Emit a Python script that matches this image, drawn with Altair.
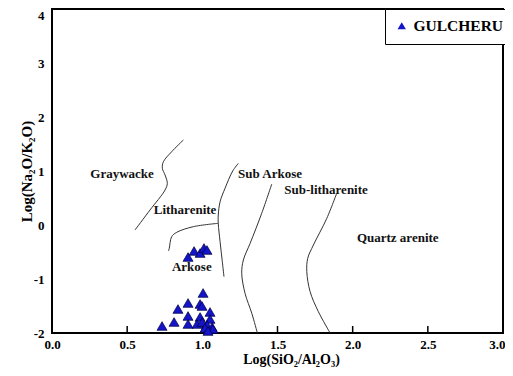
import altair as alt
import pandas as pd

# Sample points (Log SiO2/Al2O3, Log Na2O/K2O)
pt_x = [0.905, 0.945, 0.985, 1.011, 1.031,
        1.005, 0.905, 0.985, 0.998, 0.838, 1.051, 0.905, 0.985, 1.051,
        0.732, 0.812, 0.905, 0.965, 0.998, 1.031, 1.065, 1.018, 1.071, 1.038]
pt_y = [-0.593, -0.481, -0.519, -0.426, -0.463,
        -1.259, -1.444, -1.463, -1.500, -1.556, -1.611, -1.685, -1.704, -1.741,
        -1.870, -1.796, -1.833, -1.833, -1.796, -1.852, -1.889, -1.907, -1.926, -1.963]
group_name = "GULCHERU"

# Classification boundary curves
c1_x = [0.552, 0.652, 0.752, 0.767, 0.752, 0.734, 0.741, 0.796, 0.874]
c1_y = [-0.093, 0.278, 0.648, 0.772, 0.926, 1.050, 1.172, 1.357, 1.574]
c2_x = [0.775, 0.780, 0.796, 0.830, 0.940, 1.106]
c2_y = [-0.480, -0.431, -0.217, -0.135, -0.031, 0.031]
c3_x = [1.144, 1.133, 1.118, 1.106, 1.106, 1.118, 1.151, 1.202, 1.240]
c3_y = [-0.957, -0.680, -0.309, 0.031, 0.185, 0.431, 0.680, 1.000, 1.142]
c4_x = [1.462, 1.395, 1.318, 1.273, 1.262, 1.284, 1.329, 1.366]
c4_y = [0.759, 0.217, -0.339, -0.648, -0.894, -1.265, -1.635, -2.000]
c5_x = [1.894, 1.828, 1.739, 1.701, 1.695, 1.717, 1.772, 1.850]
c5_y = [0.587, 0.124, -0.370, -0.617, -0.865, -1.235, -1.606, -2.000]

# Field labels
lab_text = ["Graywacke", "Litharenite", "Arkose", "Sub Arkose", "Sub-litharenite", "Quartz arenite"]
lab_x = [0.466, 0.885, 0.930, 1.450, 1.823, 2.300]
lab_y = [0.944, 0.278, -0.780, 0.944, 0.648, -0.240]

x_ticks = [0.0, 0.5, 1.0, 1.5, 2.0, 2.5, 3.0]
inner_ticks = [0.5, 1.0, 1.5, 2.0, 2.5]
y_ticks = [-2, -1, 0, 1, 2, 3, 4]

FONT = "Liberation Serif"

pts = pd.DataFrame({"x": pt_x, "y": pt_y, "g": group_name})
rows = []
for cid, (cx, cy) in enumerate([(c1_x, c1_y), (c2_x, c2_y), (c3_x, c3_y), (c4_x, c4_y), (c5_x, c5_y)]):
    for i, (a, b) in enumerate(zip(cx, cy)):
        rows.append({"x": a, "y": b, "c": cid, "i": i})
curves = pd.DataFrame(rows)
labs = pd.DataFrame({"t": lab_text, "x": lab_x, "y": lab_y})
ticks = pd.DataFrame({"x": inner_ticks, "y": -2.0, "y2": -1.87})

xs = alt.Scale(domain=[0, 3], nice=False)
ys = alt.Scale(domain=[-2, 4], nice=False)

xax = alt.Axis(values=x_ticks, labelExpr="format(datum.value, '.1f')", title="Log(SiO₂/Al₂O₃)",
               grid=False, domain=False, ticks=False, labelFlush=False, labelOverlap=False,
               labelAlign={"condition": {"test": "datum.value == 3", "value": "right"}, "value": "center"},
               labelOffset={"condition": {"test": "datum.value == 3", "value": 2}, "value": 0},
               labelFont=FONT, labelFontWeight="bold", labelFontSize=13, labelColor="black",
               labelPadding=5, titleFont=FONT, titleFontWeight="bold", titleFontSize=14,
               titleColor="black", titleX=239, titleY=26, titleBaseline="middle")
yax = alt.Axis(values=y_ticks, labelExpr="'' + datum.value", title="Log(Na₂O/K₂O)",
               grid=False, domain=False, ticks=False, labelFlush=False, labelOverlap=False,
               labelBaseline={"condition": {"test": "datum.value == 4", "value": "top"}, "value": "middle"},
               labelFont=FONT, labelFontWeight="bold", labelFontSize=13, labelColor="black",
               labelPadding=8, titleFont=FONT, titleFontWeight="bold", titleFontSize=15,
               titleColor="black", titleX=-26, titleBaseline="middle")

lines = alt.Chart(curves).mark_line(color="#333333", strokeWidth=1, interpolate="catmull-rom").encode(
    x=alt.X("x:Q", scale=xs, axis=xax),
    y=alt.Y("y:Q", scale=ys, axis=yax),
    detail="c:N",
    order="i:Q",
)

tickrules = alt.Chart(ticks).mark_rule(color="black", strokeWidth=1.5).encode(
    x=alt.X("x:Q", scale=xs), y=alt.Y("y:Q", scale=ys), y2="y2:Q"
)

texts = alt.Chart(labs).mark_text(font=FONT, fontWeight="bold", fontSize=13, color="#111111").encode(
    x=alt.X("x:Q", scale=xs), y=alt.Y("y:Q", scale=ys), text="t:N"
)

points = alt.Chart(pts).mark_point(filled=True, size=100, stroke="#000040", strokeWidth=0.7, opacity=1).encode(
    x=alt.X("x:Q", scale=xs),
    y=alt.Y("y:Q", scale=ys),
    color=alt.Color("g:N", scale=alt.Scale(range=["#1414c8"]),
                    legend=alt.Legend(title=None, orient="none", legendX=333, legendY=0,
                                      padding=9, strokeColor="black", fillColor="white",
                                      labelFont=FONT, labelFontWeight="bold", labelFontSize=15.5,
                                      labelColor="black", symbolSize=70, symbolStrokeWidth=0)),
    shape=alt.Shape("g:N", scale=alt.Scale(range=["triangle-up"]), legend=None),
)

chart = alt.layer(lines, tickrules, texts, points).properties(
    width=451, height=324,
    autosize=alt.AutoSizeParams(type="none"),
    padding={"left": 44, "top": 1, "right": 2, "bottom": 35},
    background="white",
).configure_view(stroke="black", strokeWidth=2)

chart.save("out.html", embed_options={"renderer": "svg", "actions": False})
